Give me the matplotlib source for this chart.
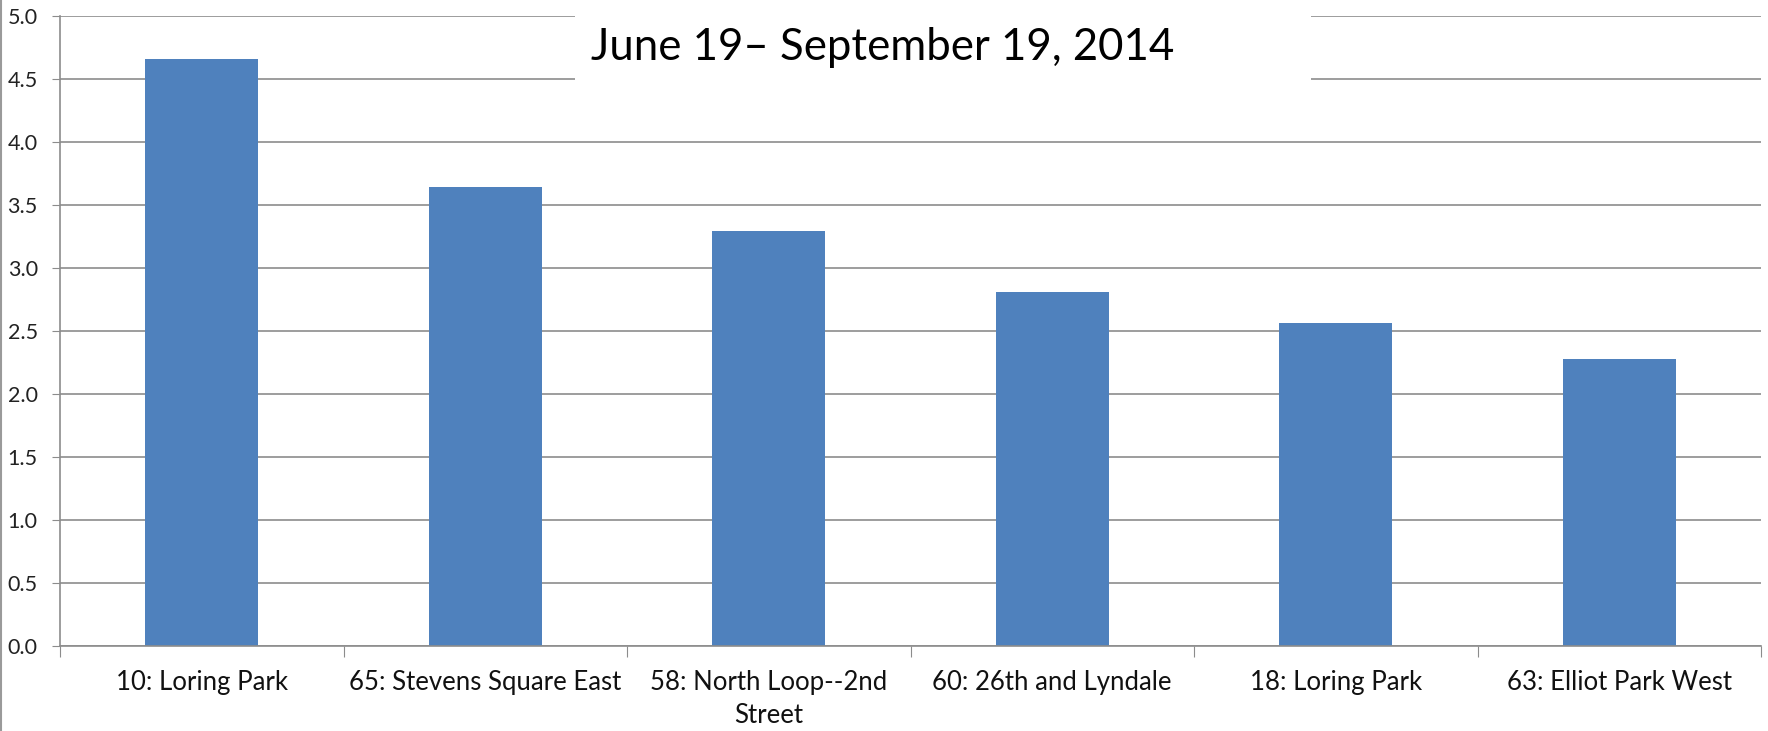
import matplotlib.pyplot as plt
from matplotlib.patches import Rectangle
from matplotlib.lines import Line2D

# data
locations = ["10: Loring Park", "65: Stevens Square East", "58: North Loop--2nd\nStreet",
             "60: 26th and Lyndale", "18: Loring Park", "63: Elliot Park West"]
values = [4.66, 3.645, 3.295, 2.807, 2.561, 2.275]
yticks = [0.0, 0.5, 1.0, 1.5, 2.0, 2.5, 3.0, 3.5, 4.0, 4.5, 5.0]
title = "June 19\u2013 September 19, 2014"

plt.rcParams['font.family'] = ['Lato', 'DejaVu Sans']

fig = plt.figure(figsize=(17.68, 7.31), dpi=100)
ax = fig.add_axes([60/1768, 85/731, (1761-60)/1768, (646-16)/731])

x = list(range(len(values)))
ax.bar(x, values, width=0.4, color='#4F81BD', zorder=2)

ax.set_xlim(-0.5, len(values) - 0.5)
ax.set_ylim(0, 5)
ax.set_yticks(yticks)
ax.set_yticklabels(["%.1f" % v for v in yticks])
ax.yaxis.grid(True, color='#8c8c8c', linewidth=1.2, zorder=0)
ax.set_axisbelow(True)

# category ticks sit on the boundaries, labels in the middle
ax.set_xticks([i - 0.5 for i in range(len(values) + 1)])
ax.set_xticklabels([])
ax.set_xticks(x, minor=True)
ax.set_xticklabels(locations, minor=True, fontsize=18.5, color='#111111',
                   linespacing=1.4)
ax.tick_params(axis='x', which='major', length=8, color='#8c8c8c', direction='out')
ax.tick_params(axis='x', which='minor', length=0, pad=17)
ax.tick_params(axis='y', length=6, color='#8c8c8c', labelsize=15.5, pad=10, labelcolor='#222222')

for s in ['top', 'right']:
    ax.spines[s].set_visible(False)
for s in ['left', 'bottom']:
    ax.spines[s].set_color('#8c8c8c')
    ax.spines[s].set_linewidth(1.2)

# white box behind the title hides the gridlines
fig.add_artist(Rectangle((575/1768, 1 - 82/731), (1311-575)/1768, 82/731,
                         transform=fig.transFigure, facecolor='white',
                         edgecolor='none', zorder=3))
fig.text(883/1768, 1 - 47/731, title, ha='center', va='center',
         fontsize=31.5, color='black', zorder=4)

# thin frame line at left edge
fig.add_artist(Line2D([0.0008, 0.0008], [0, 1], transform=fig.transFigure,
                      color='#9a9a9a', linewidth=1.5))

fig.savefig("out.png", dpi=100)
